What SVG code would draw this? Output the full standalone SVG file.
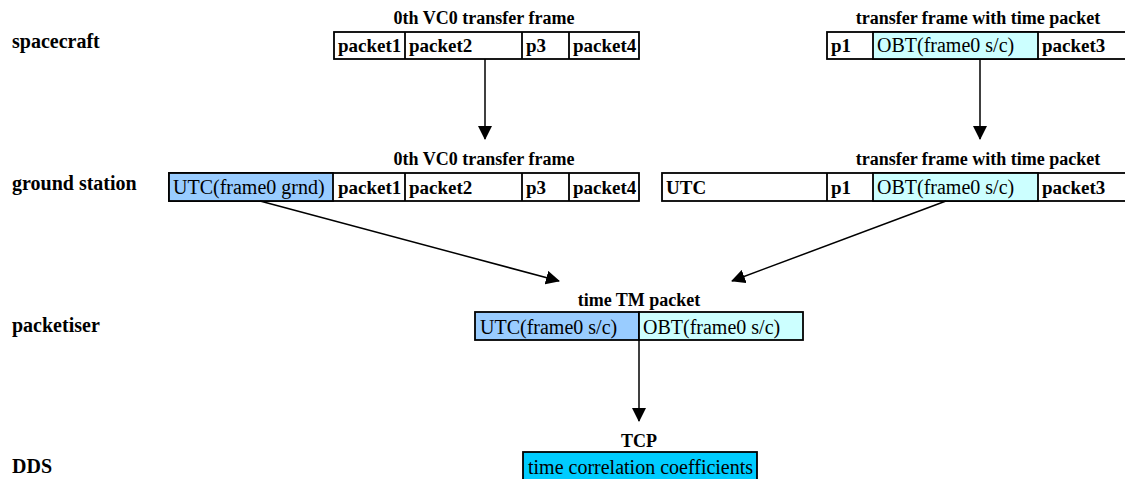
<svg xmlns="http://www.w3.org/2000/svg" width="1125" height="479" viewBox="0 0 1125 479" font-family="'Liberation Serif', 'Times New Roman', serif">
  <defs>
    <marker id="arrow" viewBox="0 0 14 14" refX="13" refY="7" markerWidth="14" markerHeight="14" markerUnits="userSpaceOnUse" orient="auto">
      <path d="M0,0 L14,7 L0,14 Z" fill="#000"/>
    </marker>
  </defs>
  <style>
    .lane, .title, .cell, .val { font-family: "Liberation Serif", "Times New Roman", serif; fill: #000; }
    .lane { font-size: 20px; font-weight: bold; }
    .title { font-size: 18px; font-weight: bold; text-anchor: middle; }
    .cell { font-size: 19px; font-weight: bold; }
    .val { font-size: 20px; }
    .box { fill: #fff; stroke: #000; stroke-width: 1.8; }
    .utc { fill: #99ccff; stroke: #000; stroke-width: 1.8; }
    .obt { fill: #ccffff; stroke: #000; stroke-width: 1.8; }
    .tcp { fill: #00ccff; stroke: #000; stroke-width: 1.8; }
    .sep { stroke: #000; stroke-width: 1.8; }
    .link { stroke: #000; stroke-width: 1.5; fill: none; marker-end: url(#arrow); }
  </style>
  <rect width="1125" height="479" fill="#fff"/>

  <!-- lane labels -->
  <g id="lanes">
    <text class="lane" x="12" y="48">spacecraft</text>
    <text class="lane" x="12" y="190">ground station</text>
    <text class="lane" x="12" y="332">packetiser</text>
    <text class="lane" x="12" y="473">DDS</text>
  </g>

  <!-- spacecraft: VC0 frame -->
  <g id="sc-vc0-frame">
    <text class="title" x="484" y="24">0th VC0 transfer frame</text>
    <rect class="box" x="334" y="32" width="305" height="27"/>
    <line class="sep" x1="405" y1="32" x2="405" y2="59"/>
    <line class="sep" x1="522" y1="32" x2="522" y2="59"/>
    <line class="sep" x1="569" y1="32" x2="569" y2="59"/>
    <text class="cell" x="338" y="52">packet1</text>
    <text class="cell" x="409" y="52">packet2</text>
    <text class="cell" x="526" y="52">p3</text>
    <text class="cell" x="573" y="52">packet4</text>
  </g>

  <!-- spacecraft: frame carrying the time packet -->
  <g id="sc-time-frame">
    <text class="title" x="978" y="24">transfer frame with time packet</text>
    <rect class="box" x="827" y="32" width="310" height="27"/>
    <rect class="obt" x="873" y="32" width="165" height="27"/>
    <text class="cell" x="831" y="52">p1</text>
    <text class="val" x="877" y="52">OBT(frame0 s/c)</text>
    <text class="cell" x="1042" y="52">packet3</text>
  </g>

  <!-- ground station: VC0 frame stamped with UTC -->
  <g id="gs-vc0-frame">
    <text class="title" x="484" y="165">0th VC0 transfer frame</text>
    <rect class="box" x="169" y="173" width="470" height="28"/>
    <rect class="utc" x="169" y="173" width="164" height="28"/>
    <line class="sep" x1="405" y1="173" x2="405" y2="201"/>
    <line class="sep" x1="522" y1="173" x2="522" y2="201"/>
    <line class="sep" x1="569" y1="173" x2="569" y2="201"/>
    <text class="val" x="173" y="194">UTC(frame0 grnd)</text>
    <text class="cell" x="338" y="194">packet1</text>
    <text class="cell" x="409" y="194">packet2</text>
    <text class="cell" x="526" y="194">p3</text>
    <text class="cell" x="573" y="194">packet4</text>
  </g>

  <!-- ground station: time frame stamped with UTC -->
  <g id="gs-time-frame">
    <text class="title" x="978" y="165">transfer frame with time packet</text>
    <rect class="box" x="662" y="173" width="475" height="28"/>
    <line class="sep" x1="827" y1="173" x2="827" y2="201"/>
    <rect class="obt" x="873" y="173" width="165" height="28"/>
    <text class="cell" x="666" y="194">UTC</text>
    <text class="cell" x="831" y="194">p1</text>
    <text class="val" x="877" y="194">OBT(frame0 s/c)</text>
    <text class="cell" x="1042" y="194">packet3</text>
  </g>

  <!-- packetiser: time TM packet -->
  <g id="time-tm-packet">
    <text class="title" x="639" y="306">time TM packet</text>
    <rect class="utc" x="475" y="312" width="164" height="28"/>
    <rect class="obt" x="639" y="312" width="164" height="28"/>
    <text class="val" x="480" y="334">UTC(frame0 s/c)</text>
    <text class="val" x="643" y="334">OBT(frame0 s/c)</text>
  </g>

  <!-- DDS: TCP -->
  <g id="tcp">
    <text class="title" x="639" y="447">TCP</text>
    <rect class="tcp" x="523" y="452" width="234" height="35"/>
    <text class="val" x="528" y="474">time correlation coefficients</text>
  </g>

  <!-- connectors -->
  <g id="connectors">
    <line class="link" x1="485" y1="59" x2="485" y2="139"/>
    <line class="link" x1="980" y1="59" x2="980" y2="139"/>
    <line class="link" x1="260" y1="201" x2="559" y2="281"/>
    <line class="link" x1="946" y1="201" x2="732" y2="281"/>
    <line class="link" x1="639" y1="340" x2="639" y2="421"/>
  </g>
</svg>
